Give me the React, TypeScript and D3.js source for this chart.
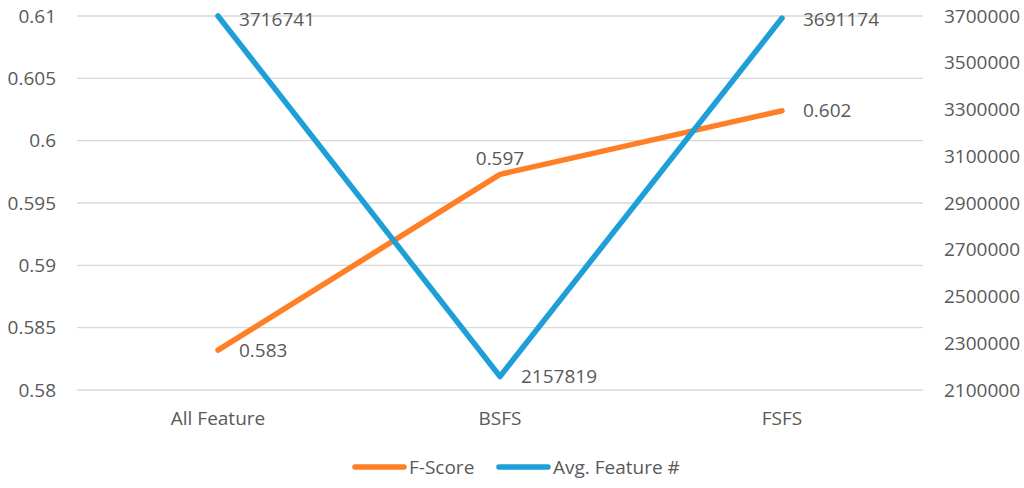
import React, { useRef, useEffect } from "react";
import { select, scalePoint, scaleLinear, line, axisLeft, axisRight } from "d3";

const categories = ["All Feature", "BSFS", "FSFS"];
const fScore = [0.5832, 0.5973, 0.6024];
const fScoreLabels = ["0.583", "0.597", "0.602"];
const avgFeatures = [3716741, 2157819, 3691174];
const leftTicks = [0.58, 0.585, 0.59, 0.595, 0.6, 0.605, 0.61];
const rightTicks = [2100000, 2300000, 2500000, 2700000, 2900000, 3100000, 3300000, 3500000, 3700000];

const W = 1024;
const H = 488;
const ORANGE = "#FF7F27";
const BLUE = "#1E9FD8";
const TEXT = "#595959";
const FONT = "'Open Sans', sans-serif";

function ComboChart() {
  const svgRef = useRef(null);

  useEffect(() => {
    const svg = select(svgRef.current);
    svg.selectAll("*").remove();

    const left = 77, right = 923, top = 16, bottom = 390;

    // scales
    const xScale = scalePoint().domain(categories).range([left, right]).padding(0.5);
    const yLeft = scaleLinear().domain([0.58, 0.61]).range([bottom, top]);
    const yRight = scaleLinear().domain([2100000, 3700000]).range([bottom, top]);

    svg.append("defs").append("clipPath").attr("id", "plot-clip")
      .append("rect").attr("x", left).attr("y", top - 3).attr("width", right - left).attr("height", bottom - top + 6);

    // gridlines
    svg.append("g")
      .selectAll("line")
      .data(leftTicks)
      .join("line")
      .attr("x1", left).attr("x2", right)
      .attr("y1", d => yLeft(d)).attr("y2", d => yLeft(d))
      .attr("stroke", "#d9d9d9").attr("stroke-width", 1.3);

    // left axis
    const gl = svg.append("g")
      .attr("transform", `translate(${left - 13},0)`)
      .call(axisLeft(yLeft).tickValues(leftTicks).tickFormat(d => String(+d)).tickSize(0).tickPadding(8));
    gl.select(".domain").remove();
    gl.selectAll("text").attr("fill", TEXT).style("font-family", FONT).style("font-size", "19px");

    // right axis
    const gr = svg.append("g")
      .attr("transform", `translate(${right + 13},0)`)
      .call(axisRight(yRight).tickValues(rightTicks).tickFormat(d => String(d)).tickSize(0).tickPadding(8));
    gr.select(".domain").remove();
    gr.selectAll("text").attr("fill", TEXT).style("font-family", FONT).style("font-size", "19px");

    // category labels
    svg.append("g")
      .selectAll("text")
      .data(categories)
      .join("text")
      .attr("x", d => xScale(d))
      .attr("y", 418)
      .attr("dy", "0.35em")
      .attr("text-anchor", "middle")
      .attr("fill", TEXT)
      .style("font-family", FONT)
      .style("font-size", "19px")
      .text(d => d);

    const plot = svg.append("g").attr("clip-path", "url(#plot-clip)");

    const orangeLine = line()
      .x((d, i) => xScale(categories[i]))
      .y(d => yLeft(d));
    const blueLine = line()
      .x((d, i) => xScale(categories[i]))
      .y(d => yRight(d));

    plot.append("path")
      .attr("d", orangeLine(fScore))
      .attr("fill", "none").attr("stroke", ORANGE).attr("stroke-width", 5.5)
      .attr("stroke-linecap", "round").attr("stroke-linejoin", "round");

    plot.append("path")
      .attr("d", blueLine(avgFeatures.map(v => Math.min(v, 3700000))))
      .attr("fill", "none").attr("stroke", BLUE).attr("stroke-width", 5.5)
      .attr("stroke-linecap", "round").attr("stroke-linejoin", "round");

    // data labels
    const labelStyle = sel => sel
      .attr("fill", TEXT)
      .style("font-family", FONT)
      .style("font-size", "19px")
      .attr("dy", "0.35em");

    svg.append("g")
      .selectAll("text")
      .data(fScore)
      .join("text")
      .attr("x", (d, i) => i === 1 ? xScale(categories[i]) : xScale(categories[i]) + 21)
      .attr("y", (d, i) => i === 1 ? yLeft(d) - 16 : yLeft(d))
      .attr("text-anchor", (d, i) => i === 1 ? "middle" : "start")
      .call(labelStyle)
      .text((d, i) => fScoreLabels[i]);

    svg.append("g")
      .selectAll("text")
      .data(avgFeatures)
      .join("text")
      .attr("x", (d, i) => xScale(categories[i]) + 21)
      .attr("y", d => Math.max(yRight(d), top + 3))
      .call(labelStyle)
      .text(d => String(d));

    // legend
    const legendItems = [
      { name: "F-Score", color: ORANGE, x: 355 },
      { name: "Avg. Feature #", color: BLUE, x: 499 },
    ];
    const lg = svg.append("g");
    lg.selectAll("line")
      .data(legendItems)
      .join("line")
      .attr("x1", d => d.x).attr("x2", d => d.x + 49)
      .attr("y1", 467).attr("y2", 467)
      .attr("stroke", d => d.color).attr("stroke-width", 5.5)
      .attr("stroke-linecap", "round");
    lg.selectAll("text")
      .data(legendItems)
      .join("text")
      .attr("x", d => d.x + 54)
      .attr("y", 467)
      .attr("dy", "0.35em")
      .attr("fill", TEXT)
      .style("font-family", FONT)
      .style("font-size", "19px")
      .text(d => d.name);
  }, []);

  return (
    <svg ref={svgRef} width={W} height={H} style={{ display: "block", background: "#fff" }} />
  );
}

export default function App() {
  return (
    <div style={{ position: "fixed", left: 0, top: 0, width: W, height: H, background: "#fff" }}>
      <ComboChart />
    </div>
  );
}
